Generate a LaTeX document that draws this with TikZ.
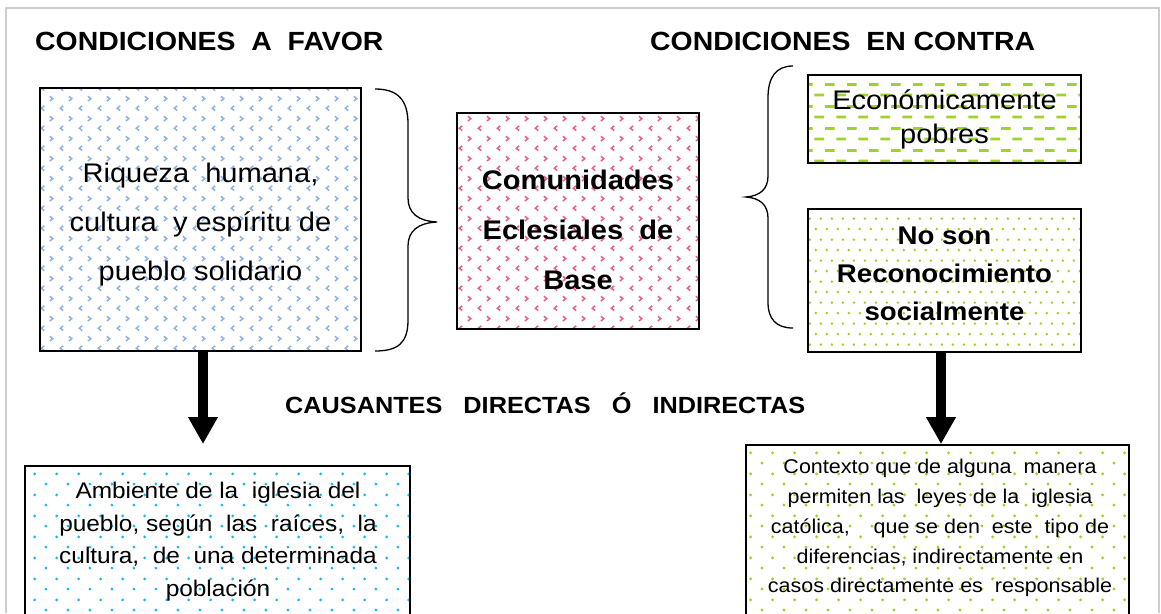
\documentclass[tikz,border=0pt]{standalone}
\usepackage{fontspec}
\setmainfont{Liberation Sans}
\usepackage{graphicx}
\usetikzlibrary{patterns,arrows.meta}

\definecolor{chevblue}{RGB}{140,180,235}
\definecolor{chevpink}{RGB}{238,95,150}
\definecolor{lgreen}{RGB}{160,210,40}
\definecolor{dcyan}{RGB}{30,185,240}
\definecolor{framegray}{RGB}{205,205,205}

\pgfdeclarepatternformonly{chevrons}{\pgfqpoint{0pt}{0pt}}{\pgfqpoint{19pt}{20pt}}{\pgfqpoint{19pt}{20pt}}{
  \pgfsetlinewidth{1.6pt}
  \pgfpathmoveto{\pgfqpoint{6.5pt}{7.5pt}}\pgfpathlineto{\pgfqpoint{3.5pt}{5pt}}\pgfpathlineto{\pgfqpoint{6.5pt}{2.5pt}}
  \pgfpathmoveto{\pgfqpoint{12.5pt}{17.5pt}}\pgfpathlineto{\pgfqpoint{15.5pt}{15pt}}\pgfpathlineto{\pgfqpoint{12.5pt}{12.5pt}}
  \pgfusepath{stroke}
}
\pgfdeclarepatternformonly{dashrows}{\pgfqpoint{0pt}{0pt}}{\pgfqpoint{22pt}{21.4pt}}{\pgfqpoint{22pt}{21.4pt}}{
  \pgfsetlinewidth{2.8pt}
  \pgfpathmoveto{\pgfqpoint{0.5pt}{3pt}}\pgfpathlineto{\pgfqpoint{10.5pt}{3pt}}
  \pgfpathmoveto{\pgfqpoint{11.5pt}{13.7pt}}\pgfpathlineto{\pgfqpoint{21.5pt}{13.7pt}}
  \pgfusepath{stroke}
}
\pgfdeclarepatternformonly{densedots}{\pgfqpoint{0pt}{0pt}}{\pgfqpoint{11pt}{21.4pt}}{\pgfqpoint{11pt}{21.4pt}}{
  \pgfpathcircle{\pgfqpoint{2pt}{2pt}}{1.5pt}
  \pgfpathcircle{\pgfqpoint{7.5pt}{12.7pt}}{1.5pt}
  \pgfusepath{fill}
}
\pgfdeclarepatternformonly{sparsedots}{\pgfqpoint{0pt}{0pt}}{\pgfqpoint{21.7pt}{20.6pt}}{\pgfqpoint{21.7pt}{20.6pt}}{
  \pgfpathcircle{\pgfqpoint{3pt}{3pt}}{1.6pt}
  \pgfpathcircle{\pgfqpoint{13.85pt}{13.3pt}}{1.6pt}
  \pgfusepath{fill}
}

\newcommand\hs[1]{\scalebox{1.08}[1]{#1}}

\begin{document}
\begin{tikzpicture}[x=1pt,y=-1pt,
  boxbase/.style={draw=black, line width=1.8pt, inner sep=0pt},
  txt/.style={inner sep=0pt, text=black},
  heading/.style={inner sep=0pt, anchor=base west, font=\fontsize{26.3}{31}\selectfont\bfseries},
  subheading/.style={inner sep=0pt, anchor=base west, font=\fontsize{23.4}{28}\selectfont\bfseries},
  bracket/.style={draw=black, line width=1.3pt},
  bigarrow/.style={draw=black, line width=10pt, -{Triangle[width=28pt,length=27pt]}},
  frameline/.style={draw=framegray, line width=1.6pt}]

\path[use as bounding box, clip] (0,0) rectangle (1161,613);
\fill[white] (0,0) rectangle (1161,613);

% page frame
\draw[frameline] (6,613) -- (6,8) -- (1159,8) -- (1159,613);

% headings
\node[heading] (t1) at (35,50) {\hs{CONDICIONES\ \ A\ \ FAVOR}};
\node[heading] (t2) at (650,50) {\hs{CONDICIONES\ \ EN CONTRA}};
\node[subheading] (t3) at (285,413) {\hs{CAUSANTES\ \ \ DIRECTAS\ \ \ Ó\ \ \ INDIRECTAS}};

% boxes
\node[boxbase, pattern=chevrons, pattern color=chevblue, minimum width=321pt, minimum height=263pt] (A) at (200.5,219.5) {};
\node[boxbase, pattern=chevrons, pattern color=chevpink, minimum width=242pt, minimum height=216pt] (B) at (578,221) {};
\node[boxbase, pattern=dashrows, pattern color=lgreen, minimum width=273pt, minimum height=88pt] (C) at (944.5,119) {};
\node[boxbase, pattern=densedots, pattern color=lgreen, minimum width=273pt, minimum height=143pt] (D) at (944.5,280.5) {};
\node[boxbase, pattern=sparsedots, pattern color=dcyan, minimum width=385pt, minimum height=160pt] (E) at (217.5,546) {};
\node[boxbase, pattern=sparsedots, pattern color=lgreen, minimum width=383pt, minimum height=180pt] (F) at (937.5,535) {};

% box texts
\node[txt] (tA) at (200.5,222) {\hs{\fontsize{26.9}{49}\selectfont\begin{tabular}{@{}c@{}}Riqueza\ \ humana,\\ cultura\ \ y espíritu de\\ pueblo solidario\end{tabular}}};
\node[txt] (tB) at (578,229) {\hs{\fontsize{26.9}{50}\selectfont\bfseries\begin{tabular}{@{}c@{}}Comunidades\\ Eclesiales\ \ de\\ Base\end{tabular}}};
\node[txt] (tC) at (944.5,120) {\hs{\fontsize{26.9}{34}\selectfont\begin{tabular}{@{}c@{}}Económicamente\\ pobres\end{tabular}}};
\node[txt] (tD) at (944.5,275) {\hs{\fontsize{25.6}{38}\selectfont\bfseries\begin{tabular}{@{}c@{}}No son\\ Reconocimiento\\ socialmente\end{tabular}}};
\node[txt] (tE) at (218,541) {\hs{\fontsize{22.6}{32.7}\selectfont\begin{tabular}{@{}c@{}}Ambiente de la\ \ iglesia del\\ pueblo, según\ \ las\ \ raíces,\ \ la\\ cultura,\ \ de\ \ una determinada\\ población\end{tabular}}};
\node[txt] (tF) at (940,527.5) {\hs{\fontsize{19.9}{29.75}\selectfont\begin{tabular}{@{}c@{}}Contexto que de alguna\ \ manera\\ permiten las\ \ leyes de la\ \ iglesia\\ católica,\ \ \ \ que se den\ \ este\ \ tipo de\\ diferencias, indirectamente en\\ casos directamente es\ \ responsable\end{tabular}}};

% braces
\draw[bracket] (375,89) .. controls (398,89) and (408,100) .. (408,124) -- (408,198)
  .. controls (408,213) and (418,221) .. (437,222)
  .. controls (418,223) and (408,231) .. (408,246) -- (408,320)
  .. controls (408,343) and (398,351) .. (375,351);
\draw[bracket] (793,66) .. controls (776,66) and (768,77) .. (768,98) -- (768,176)
  .. controls (768,189) and (760,196) .. (746,197)
  .. controls (760,198) and (768,205) .. (768,218) -- (768,302)
  .. controls (768,319) and (776,328) .. (793,328);

% arrows
\coordinate (e1) at (203,444);
\coordinate (e2) at (941,444);
\draw[bigarrow] (A.south -| e1) -- (e1);
\draw[bigarrow] (D.south -| e2) -- (F.north -| e2);
\end{tikzpicture}
\end{document}
